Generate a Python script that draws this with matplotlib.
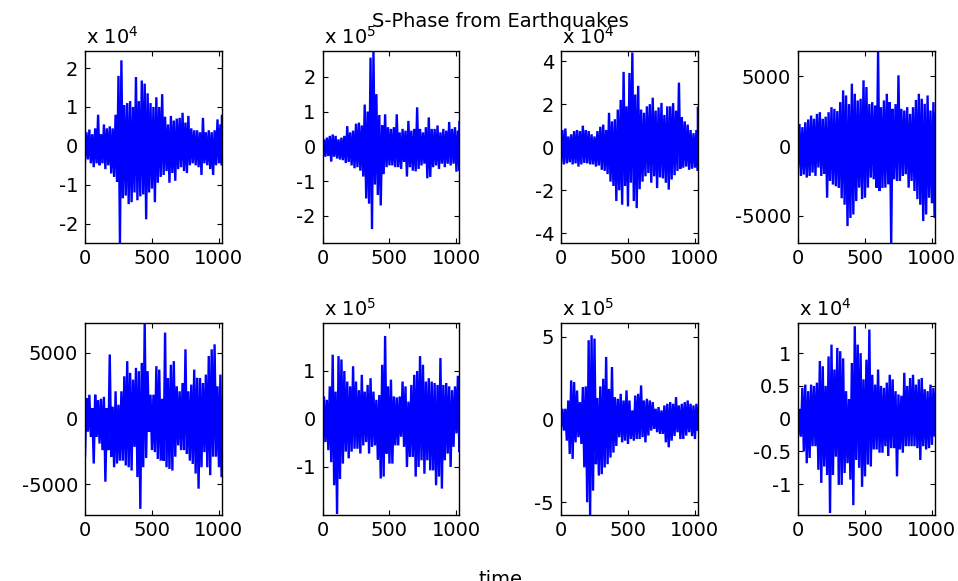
import numpy as np
import matplotlib
matplotlib.use("Agg")
import matplotlib.pyplot as plt
from matplotlib.ticker import FuncFormatter

plt.rcParams['font.family'] = ['DejaVu Sans']
plt.rcParams['mathtext.fontset'] = 'dejavusans'
plt.rcParams['axes.unicode_minus'] = False

# ---------------- data (peak envelope readings, in displayed units) ----------------
N_SAMPLES = 1024
x_ticks = [0, 500, 1000]

p1_hi = [0.35, 0.42, 0.3, 0.45, 0.8, 0.3, 0.55, 0.45, 0.5, 0.45, 0.8, 1.8, 2.2, 1.05, 1.1, 1.15,
         1.0, 1.77, 1.15, 1.68, 1.6, 1.35, 1.1, 1.0, 1.25, 1.0, 1.33, 0.75, 0.55, 0.77, 0.65, 0.7,
         0.72, 0.85, 0.6, 0.77, 0.45, 0.4, 0.4, 0.35, 0.72, 0.35, 0.4, 0.35, 0.4, 0.68, 0.55, 0.77]
p1_lo = [-0.4, -0.35, -0.45, -0.55, -0.45, -0.5, -0.45, -0.6, -0.5, -0.71, -0.8, -0.93, -2.5, -1.35, -1.28, -1.5,
         -1.45, -1.2, -1.4, -1.3, -1.25, -1.89, -1.2, -1.1, -1.45, -0.95, -0.8, -0.75, -0.65, -0.95, -0.7, -0.9,
         -0.6, -0.55, -0.65, -0.7, -0.5, -0.45, -0.5, -0.55, -0.75, -0.45, -0.5, -0.6, -0.75, -0.5, -0.45, -0.5]

p2_hi = [0.2, 0.25, 0.3, 0.34, 0.3, 0.2, 0.25, 0.3, 0.58, 0.4, 0.45, 0.65, 0.68, 0.6, 1.2, 1.0,
         2.55, 2.72, 1.5, 0.9, 0.6, 0.92, 0.55, 0.5, 0.55, 0.92, 0.4, 0.5, 0.45, 0.73, 0.45, 0.5,
         1.12, 0.5, 0.4, 0.55, 0.83, 0.5, 0.5, 0.6, 0.4, 0.5, 0.45, 0.7, 0.5, 0.55, 0.45, 0.7]
p2_lo = [-0.25, -0.3, -0.28, -0.44, -0.3, -0.35, -0.38, -0.4, -0.48, -0.45, -0.55, -0.63, -0.6, -0.7, -0.87, -1.5,
         -1.65, -2.38, -1.1, -1.4, -1.7, -0.8, -0.6, -0.55, -0.55, -0.6, -0.6, -0.65, -0.45, -0.87, -0.6, -0.7,
         -0.72, -0.65, -0.55, -0.5, -0.92, -0.88, -0.6, -0.55, -0.65, -0.5, -0.6, -0.5, -0.55, -0.5, -0.73, -0.7]

p3_hi = [0.8, 0.87, 0.5, 0.6, 0.75, 0.8, 0.75, 1.0, 0.8, 0.75, 0.6, 0.5, 0.75, 0.95, 1.05, 0.8,
         1.6, 1.2, 1.3, 1.75, 2.2, 3.5, 1.9, 3.45, 4.4, 2.45, 2.85, 1.75, 1.6, 1.9, 2.0, 2.3,
         1.7, 1.85, 2.06, 1.5, 1.9, 1.9, 2.05, 1.7, 3.0, 1.4, 1.2, 1.05, 0.8, 0.65, 0.8, 1.83]
p3_lo = [-0.75, -0.8, -0.75, -0.7, -0.8, -0.75, -0.9, -0.8, -0.73, -0.75, -0.8, -0.8, -0.9, -0.85, -1.05, -1.1,
         -1.25, -1.6, -1.8, -2.5, -2.0, -2.67, -1.8, -2.75, -1.65, -2.5, -2.83, -1.95, -1.6, -1.35, -1.2, -1.65,
         -1.35, -1.9, -1.4, -1.45, -1.65, -1.97, -1.5, -1.3, -1.1, -1.0, -0.95, -0.9, -1.05, -1.0, -0.95, -1.1]

p4_hi = [1580, 1350, 1700, 1900, 2180, 1950, 2300, 2420, 1950, 2100, 2420, 2780, 2660, 2500, 3140, 3980,
         3620, 3000, 4460, 3740, 3260, 3380, 4700, 4220, 3000, 3140, 2900, 6800, 2780, 3260, 3740, 3140,
         2660, 3000, 5060, 2660, 2540, 2780, 2300, 2780, 3300, 3740, 3380, 3020, 3620, 2540, 3140, 2300]
p4_lo = [-1540, -2140, -2040, -2260, -2140, -1900, -2140, -1540, -2140, -2000, -3700, -2500, -2760, -2880, -3000, -3740,
         -4200, -5730, -5150, -4900, -3940, -2980, -3800, -3700, -2980, -2260, -2380, -2980, -3220, -3000, -2980, -2740,
         -6940, -2380, -2500, -2500, -2140, -2020, -2980, -2500, -3220, -3800, -4200, -5370, -4900, -3700, -4100, -5130]

p5_hi = [1560, 1810, 800, 1810, 1400, 1500, 1650, 800, 4870, 900, 2070, 1050, 2070, 3210, 4360, 3470,
         2960, 3850, 3600, 4230, 7260, 3600, 1810, 1810, 3980, 3720, 1500, 6530, 3080, 4090, 4360, 2450,
         2070, 2700, 5260, 2070, 2580, 3720, 3100, 3080, 2700, 3340, 4750, 5260, 5640, 2450, 3340, 1000]
p5_lo = [-2900, -1000, -1400, -3420, -1400, -1900, -2400, -4800, -2400, -2900, -3700, -3420, -3200, -3200, -3570, -3700,
         -3950, -2150, -4450, -6860, -3700, -3000, -1000, -2400, -2550, -3070, -3200, -3200, -3700, -3830, -3950, -2900,
         -2040, -2400, -2400, -2680, -3200, -3450, -4180, -5330, -3700, -2550, -3700, -4300, -2900, -2900, -3700, -4450]

p6_hi = [0.47, 0.4, 0.68, 1.34, 0.57, 1.31, 1.24, 1.0, 0.78, 0.68, 1.1, 0.78, 0.6, 0.92, 0.57, 0.71,
         0.85, 0.57, 0.4, 0.5, 1.13, 1.73, 0.68, 0.82, 0.47, 0.45, 0.47, 0.78, 0.68, 0.36, 0.71, 0.92,
         1.0, 1.31, 1.13, 0.78, 0.85, 0.78, 0.75, 0.71, 1.27, 0.71, 0.75, 0.68, 0.6, 0.68, 0.9, 0.82]
p6_lo = [-0.34, -0.48, -0.65, -0.9, -1.38, -1.98, -1.25, -0.93, -0.68, -0.82, -0.68, -0.62, -0.62, -0.72, -0.55, -0.48,
         -0.72, -0.58, -0.55, -0.85, -1.24, -1.2, -0.72, -0.93, -0.93, -0.55, -0.55, -0.37, -0.58, -1.0, -0.79, -0.79,
         -1.2, -1.0, -0.86, -1.14, -0.86, -1.07, -1.07, -1.38, -1.2, -1.45, -0.86, -0.72, -1.0, -0.58, -0.3, -0.69]

p7_hi = [0.65, 0.65, 1.15, 2.36, 2.26, 1.75, 1.05, 1.96, 2.0, 4.79, 5.09, 4.89, 1.3, 2.0, 2.46, 3.78,
         1.85, 3.17, 1.35, 1.25, 1.55, 1.15, 1.76, 1.15, 0.55, 1.45, 1.55, 2.06, 1.15, 1.25, 1.15, 1.05,
         0.65, 0.75, 0.55, 0.85, 0.95, 1.05, 0.95, 1.35, 0.85, 0.95, 1.05, 1.15, 0.95, 0.85, 0.95, 0.65]
p7_lo = [-0.47, -0.67, -1.28, -2.08, -2.38, -1.38, -1.07, -1.48, -2.89, -5.0, -5.77, -4.3, -2.7, -3.39, -3.3, -2.9,
         -2.7, -2.3, -2.0, -1.6, -1.07, -1.38, -1.28, -1.48, -1.18, -1.28, -1.18, -1.18, -1.07, -1.38, -0.97, -0.67,
         -0.57, -0.77, -0.87, -0.87, -1.38, -1.68, -1.28, -1.0, -0.77, -1.18, -1.18, -0.97, -0.77, -1.0, -1.18, -0.67]

p8_hi = [0.15, 0.47, 0.52, 0.42, 0.52, 0.5, 0.55, 0.88, 0.8, 0.5, 0.95, 1.13, 0.75, 1.08, 1.03, 0.92,
         0.42, 0.3, 0.85, 1.41, 1.13, 1.0, 0.6, 0.9, 1.36, 0.67, 0.52, 0.75, 0.5, 0.47, 0.55, 0.67,
         0.6, 0.42, 0.37, 0.35, 0.7, 0.5, 0.62, 0.67, 0.52, 0.6, 0.62, 0.45, 0.42, 0.52, 0.47, 0.37]
p8_lo = [-0.24, -0.27, -0.5, -0.68, -0.6, -0.42, -0.42, -0.78, -0.98, -0.73, -0.86, -1.44, -0.86, -0.58, -1.01, -1.01,
         -0.83, -0.68, -0.93, -1.32, -0.63, -0.75, -1.04, -0.88, -0.7, -0.73, -0.47, -0.47, -0.52, -0.52, -0.42, -0.57,
         -0.45, -0.45, -0.88, -0.47, -0.52, -0.42, -0.42, -0.42, -0.42, -0.45, -0.63, -0.42, -0.47, -0.45, -0.4, -0.27]

series_hi = [p1_hi, p2_hi, p3_hi, p4_hi, p5_hi, p6_hi, p7_hi, p8_hi]
series_lo = [p1_lo, p2_lo, p3_lo, p4_lo, p5_lo, p6_lo, p7_lo, p8_lo]
exponents = [4, 5, 4, None, None, 5, 5, 4]
y_ticks = [[-2, -1, 0, 1, 2], [-2, -1, 0, 1, 2], [-4, -2, 0, 2, 4], [-5000, 0, 5000],
           [-5000, 0, 5000], [-1, 0, 1], [-5, 0, 5], [-1, -0.5, 0, 0.5, 1]]
y_limits = [(-2.5, 2.44), (-2.78, 2.74), (-4.45, 4.47), (-6940, 6800),
            (-7330, 7260), (-2.0, 2.0), (-5.77, 5.83), (-1.47, 1.46)]

title = "S-Phase from Earthquakes"
xlabel = "time"

# ---------------- layout ----------------
W, H = 958, 581
fig = plt.figure(figsize=(W / 100, H / 100), dpi=100)
col_left = [85, 322.5, 561, 798]
ax_w = 137
row_top = [51, 323]
ax_h = 192
FS = 14

for k in range(8):
    r, c = divmod(k, 4)
    left = col_left[c] / W
    bottom = 1 - (row_top[r] + ax_h) / H
    ax = fig.add_axes([left, bottom, ax_w / W, ax_h / H])
    hi = np.asarray(series_hi[k], dtype=float)
    lo = np.asarray(series_lo[k], dtype=float)
    n = len(hi)
    t = np.linspace(0, N_SAMPLES - 1, n)
    half = (t[1] - t[0]) / 2
    xs = np.empty(2 * n)
    ys = np.empty(2 * n)
    xs[0::2] = t
    xs[1::2] = np.minimum(t + half, N_SAMPLES - 1)
    ys[0::2] = lo
    ys[1::2] = hi
    ax.plot(xs, ys, color='#0000FF', lw=1.7, solid_joinstyle='miter')
    ax.set_xlim(0, N_SAMPLES)
    ax.set_ylim(*y_limits[k])
    ax.set_xticks(x_ticks)
    ax.set_yticks(y_ticks[k])
    ax.yaxis.set_major_formatter(FuncFormatter(lambda v, p: f"{v:g}"))
    ax.tick_params(direction='in', length=3.5, width=0.8, top=True, right=True,
                   labelsize=FS, colors='black')
    ax.tick_params(axis='x', pad=4)
    ax.tick_params(axis='y', pad=5)
    for s in ax.spines.values():
        s.set_linewidth(1.0)
        s.set_color('black')
        s.set_zorder(3)
    if exponents[k] is not None:
        ax.annotate(r"x 10$^{%d}$" % exponents[k], xy=(0, 1), xycoords='axes fraction',
                    xytext=(1, 5.5), textcoords='offset points', ha='left', va='baseline',
                    fontsize=FS)

fig.text(500 / W, 1 - 27 / H, title, ha='center', va='baseline', fontsize=FS)
fig.text(500 / W, 1 - 585 / H, xlabel, ha='center', va='baseline', fontsize=FS)

fig.savefig("out.png", dpi=100)
